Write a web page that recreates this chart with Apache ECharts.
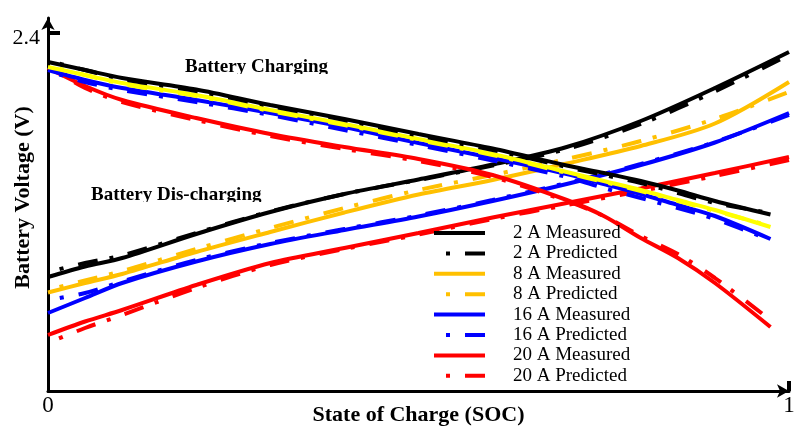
<!DOCTYPE html>
<html>
<head>
<meta charset="utf-8">
<script src="https://cdn.jsdelivr.net/npm/echarts@6/dist/echarts.min.js"></script>
<style>
  html, body { margin: 0; padding: 0; background: #fff; }
  #chart { width: 795px; height: 429px; }
</style>
</head>
<body>
<div id="chart"></div>
<script>
// state of charge samples
var socDis = [0, 0.05, 0.1, 0.2, 0.3, 0.4, 0.5, 0.6, 0.7, 0.8, 0.9, 1.0];
var socChg = [0, 0.05, 0.1, 0.2, 0.3, 0.4, 0.5, 0.6, 0.7, 0.75, 0.8, 0.85, 0.9, 0.975];

// discharging (rising curves)
var dis2Meas  = [1.912, 1.933, 1.95, 1.998, 2.042, 2.078, 2.107, 2.137, 2.172, 2.224, 2.29, 2.362];
var dis2Pred  = [1.922, 1.94, 1.955, 2.0, 2.043, 2.078, 2.106, 2.135, 2.168, 2.218, 2.283, 2.356];
var dis8Meas  = [1.881, 1.90, 1.918, 1.962, 2.002, 2.041, 2.077, 2.106, 2.139, 2.174, 2.219, 2.302];
var dis8Pred  = [1.886, 1.905, 1.924, 1.968, 2.01, 2.05, 2.086, 2.116, 2.148, 2.184, 2.228, 2.282];
var dis16Meas = [1.84, 1.87, 1.90, 1.943, 1.978, 2.006, 2.033, 2.064, 2.098, 2.136, 2.181, 2.24];
var dis16Pred = [1.866, 1.88, 1.903, 1.946, 1.98, 2.008, 2.035, 2.066, 2.1, 2.138, 2.182, 2.236];
var dis20Meas = [1.796, 1.823, 1.846, 1.896, 1.94, 1.97, 2.0, 2.031, 2.06, 2.089, 2.12, 2.152];
var dis20Pred = [1.78, 1.81, 1.836, 1.89, 1.936, 1.968, 1.997, 2.028, 2.056, 2.084, 2.114, 2.146];

// charging (falling curves)
var chg2Meas  = [2.342, 2.326, 2.31, 2.287, 2.256, 2.228, 2.198, 2.169, 2.135, 2.12, 2.104, 2.085, 2.064, 2.037];
var chg2Pred  = [2.344, 2.326, 2.308, 2.284, 2.254, 2.226, 2.195, 2.166, 2.132, 2.116, 2.1, 2.08, 2.06, 2.04];
var chg8Meas  = [2.332, 2.316, 2.30, 2.276, 2.246, 2.218, 2.188, 2.158, 2.122, 2.104, 2.086, 2.066, 2.046, 2.012];
var chg8Pred  = [2.334, 2.316, 2.298, 2.274, 2.244, 2.216, 2.186, 2.156, 2.12, 2.102, 2.084, 2.064, 2.044, 2.014];
var chg16Meas = [2.326, 2.306, 2.29, 2.266, 2.24, 2.212, 2.18, 2.15, 2.118, 2.098, 2.078, 2.056, 2.034, 1.988];
var chg16Pred = [2.324, 2.302, 2.286, 2.262, 2.236, 2.206, 2.176, 2.145, 2.112, 2.09, 2.07, 2.05, 2.028, 1.986];
var chg20Meas = [2.33, 2.294, 2.266, 2.23, 2.198, 2.172, 2.148, 2.116, 2.066, 2.034, 1.99, 1.95, 1.90, 1.812];
var chg20Pred = [2.334, 2.29, 2.262, 2.226, 2.194, 2.168, 2.144, 2.112, 2.064, 2.034, 1.994, 1.958, 1.91, 1.826];

var legendNames = ['2 A Measured', '2 A Predicted', '8 A Measured', '8 A Predicted',
                   '16 A Measured', '16 A Predicted', '20 A Measured', '20 A Predicted'];

var font = '"Liberation Serif", "Times New Roman", serif';
var dashDot = [20, 12, 4, 15];

function pairs(xs, ys) {
    return xs.map(function (x, i) { return [x, ys[i]]; });
}

function line(name, color, xs, ys, predicted) {
    return {
        name: name,
        type: 'line',
        data: pairs(xs, ys),
        symbol: 'none',
        showSymbol: false,
        smooth: 0.3,
        silent: true,
        lineStyle: {
            color: color,
            width: 4,
            type: predicted ? dashDot : 'solid',
            dashOffset: predicted ? 20 : 0
        },
        itemStyle: { color: color },
        emphasis: { disabled: true }
    };
}

var series = [
    // discharging first so the legend takes these colours
    line('2 A Measured', '#000000', socDis, dis2Meas, false),
    line('2 A Predicted', '#000000', socDis, dis2Pred, true),
    line('8 A Measured', '#FFC000', socDis, dis8Meas, false),
    line('8 A Predicted', '#FFC000', socDis, dis8Pred, true),
    line('16 A Measured', '#0000FF', socDis, dis16Meas, false),
    line('16 A Predicted', '#0000FF', socDis, dis16Pred, true),
    line('20 A Measured', '#FF0000', socDis, dis20Meas, false),
    line('20 A Predicted', '#FF0000', socDis, dis20Pred, true),
    // charging
    line('20 A Measured', '#FF0000', socChg, chg20Meas, false),
    line('20 A Predicted', '#FF0000', socChg, chg20Pred, true),
    line('16 A Measured', '#0000FF', socChg, chg16Meas, false),
    line('16 A Predicted', '#0000FF', socChg, chg16Pred, true),
    line('8 A Measured', '#FFFF00', socChg, chg8Meas, false),
    line('8 A Predicted', '#FFFF00', socChg, chg8Pred, true),
    line('2 A Measured', '#000000', socChg, chg2Meas, false),
    line('2 A Predicted', '#000000', socChg, chg2Pred, true)
];

var chart = echarts.init(document.getElementById('chart'));
chart.setOption({
    animation: false,
    backgroundColor: '#fff',
    grid: { left: 48, right: 6, top: 18, bottom: 38, containLabel: false, outerBoundsMode: 'none' },
    xAxis: {
        type: 'value',
        min: 0,
        max: 1,
        name: 'State of Charge (SOC)',
        nameLocation: 'middle',
        nameGap: 13,
        nameMoveOverlap: false,
        nameTextStyle: { fontFamily: font, fontSize: 22, fontWeight: 'bold', color: '#000' },
        axisLine: {
            lineStyle: { color: '#000', width: 3 },
            symbol: ['none', 'arrow'],
            symbolSize: [10, 12]
        },
        axisTick: { show: true, inside: true, length: 10, customValues: [1], lineStyle: { color: '#000', width: 4 } },
        axisLabel: { customValues: [0, 1], fontFamily: font, fontSize: 23, color: '#000', margin: 3 },
        splitLine: { show: false }
    },
    yAxis: {
        type: 'value',
        min: 1.684,
        max: 2.43,
        name: 'Battery Voltage (V)',
        nameLocation: 'middle',
        nameRotate: 90,
        nameGap: 14,
        nameMoveOverlap: false,
        nameTextStyle: { fontFamily: font, fontSize: 22, fontWeight: 'bold', color: '#000', padding: [0, 0, 0, 14] },
        axisLine: {
            lineStyle: { color: '#000', width: 3 },
            symbol: ['none', 'arrow'],
            symbolSize: [10, 12]
        },
        axisTick: { show: true, inside: true, length: 12, customValues: [2.4], lineStyle: { color: '#000', width: 4 } },
        axisLabel: {
            customValues: [2.4],
            fontFamily: font,
            fontSize: 22,
            color: '#000',
            margin: 8,
            verticalAlign: 'top',
            lineHeight: 10,
            formatter: function (v) { return v.toFixed(1); }
        },
        splitLine: { show: false }
    },
    legend: {
        orient: 'vertical',
        left: 432,
        top: 223,
        padding: 0,
        itemWidth: 51,
        itemHeight: 20,
        itemGap: 0.4,
        selectedMode: false,
        data: legendNames,
        lineStyle: { width: 4 },
        itemStyle: { opacity: 0 },
        textStyle: { fontFamily: font, fontSize: 19, color: '#000', lineHeight: 20, padding: [0, 0, 0, 23] }
    },
    graphic: [
        { type: 'text', left: 185, top: 58, z: 1, z2: 0,
          style: { text: 'Battery Charging', font: 'bold 19px ' + font, fill: '#000' } },
        { type: 'text', left: 91, top: 186, z: 1, z2: 0,
          style: { text: 'Battery Dis-charging', font: 'bold 19px ' + font, fill: '#000' } },
        // the labels are cut off at their baseline in the original
        { type: 'rect', left: 182, top: 74, z: 1, z2: 1, shape: { width: 155, height: 6 }, style: { fill: '#fff' } },
        { type: 'rect', left: 88, top: 202, z: 1, z2: 1, shape: { width: 180, height: 5 }, style: { fill: '#fff' } }
    ],
    series: series
});
</script>
</body>
</html>
